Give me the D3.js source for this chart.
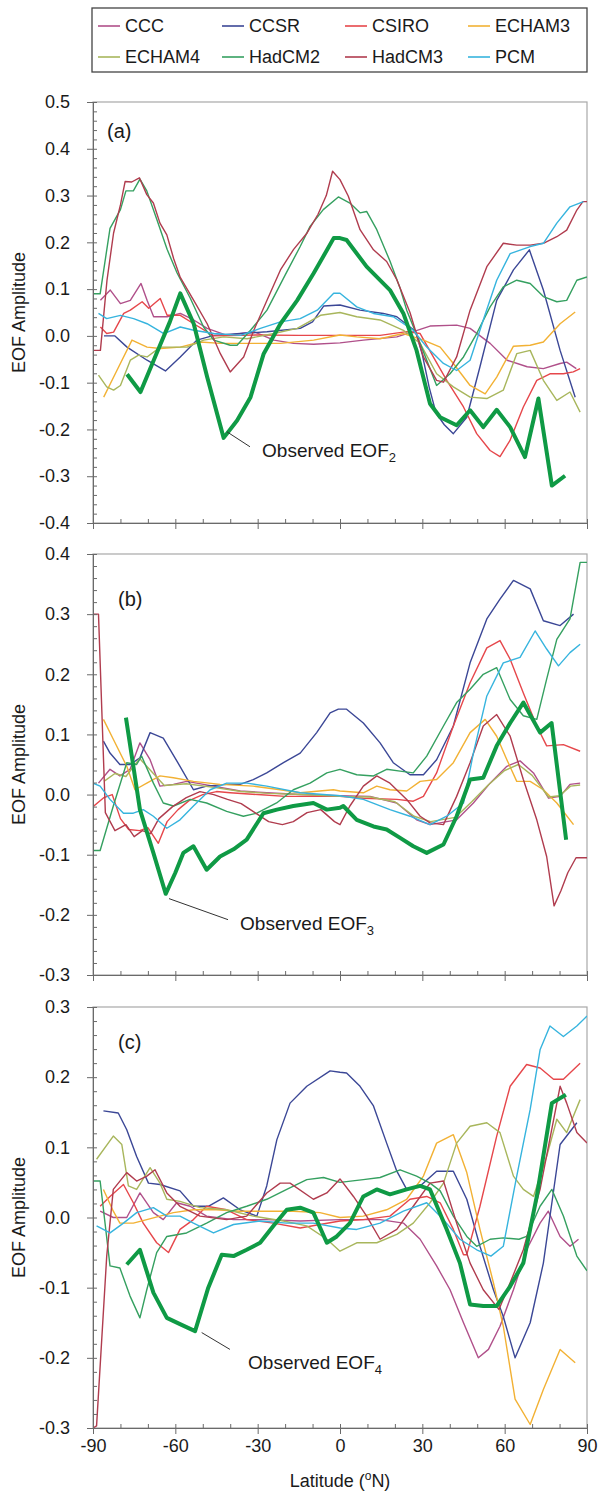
<!DOCTYPE html>
<html>
<head>
<meta charset="utf-8">
<script src="https://cdn.jsdelivr.net/npm/d3@7"></script>
<style>
  body { margin: 0; background: #fff; }
  text { font-family: "Liberation Sans", Arial, sans-serif; }
</style>
</head>
<body>
<div id="chart"></div>
<script>
// legend / series names
var models = ["CCC", "CCSR", "CSIRO", "ECHAM3", "ECHAM4", "HadCM2", "HadCM3", "PCM"];
var modelColors = ["#b0508a", "#3b4796", "#e6474b", "#f2b134", "#a8b65c", "#35a060", "#b03c4e", "#36b4de"];
var obsColor = "#0f9a45";

var panelLabels = ["(a)", "(b)", "(c)"];
var latTicks = [-90, -60, -30, 0, 30, 60, 90];
var eof2Ticks = [-0.4, -0.3, -0.2, -0.1, 0.0, 0.1, 0.2, 0.3, 0.4, 0.5];
var eof3Ticks = [-0.3, -0.2, -0.1, 0.0, 0.1, 0.2, 0.3, 0.4];
var eof4Ticks = [-0.3, -0.2, -0.1, 0.0, 0.1, 0.2, 0.3];

// ---- panel (a): EOF2, [latitude, amplitude] ----
var eof2CCC = [[-87.3,0.076],[-83.7,0.098],[-80,0.069],[-76.4,0.076],[-72.5,0.112],[-70.3,0.076],[-67.9,0.041],[-63,0.041],[-58.2,0.048],[-53.3,0.034],[-48.4,0.016],[-41.2,0.001],[-31.4,0.009],[-24.1,-0.009],[-16.9,-0.016],[-9.6,-0.018],[0,-0.015],[8.5,-0.009],[20.7,-0.002],[26.7,0.009],[32.8,0.021],[42.5,0.023],[47.4,0.016],[54.7,-0.016],[60.9,-0.052],[68.2,-0.066],[74.1,-0.07],[80.2,-0.059],[82.6,-0.056],[86.1,-0.07]];
var eof2CCSR = [[-86,0.0],[-82,0.0],[-77.6,-0.024],[-70.3,-0.052],[-63.6,-0.075],[-58.2,-0.045],[-52.1,-0.009],[-46,0.001],[-36.3,0.005],[-26.6,0.009],[-14.5,0.016],[-10,0.03],[-5.9,0.064],[0,0.066],[7.3,0.055],[15.8,0.048],[20.7,0.041],[25.5,0.019],[27.5,0.01],[30,-0.04],[32.5,-0.11],[35,-0.165],[38,-0.19],[41.3,-0.209],[46.2,-0.174],[51,-0.066],[57.1,0.076],[63.2,0.141],[69,0.184],[74.1,0.098],[80.2,-0.031],[85.7,-0.131]];
var eof2CSIRO = [[-87.3,0.019],[-85,0.005],[-82.5,0.008],[-78.8,0.048],[-76.4,0.055],[-72.1,0.073],[-69.7,0.059],[-65.5,0.08],[-63,0.044],[-58.2,0.044],[-53.3,0.026],[-46,0.0],[-30,0.002],[-15,0.001],[0,0.001],[14.6,0.001],[24.3,0.009],[29.2,0.005],[34,-0.045],[38.9,-0.095],[45,-0.152],[49.8,-0.209],[54.7,-0.245],[58.3,-0.258],[61.9,-0.224],[66.8,-0.152],[71.7,-0.095],[76.5,-0.081],[81.4,-0.081],[85,-0.077],[87.5,-0.07]];
var eof2ECHAM3 = [[-86.1,-0.131],[-81.3,-0.074],[-75.8,-0.009],[-70.3,-0.024],[-65.5,-0.027],[-58.2,-0.024],[-50.9,-0.013],[-43.6,-0.016],[-33.9,-0.016],[-21.7,-0.016],[-9.6,-0.009],[0,0.002],[6.1,-0.002],[14.6,-0.006],[23.1,0.005],[30.4,-0.009],[36.5,-0.024],[41.3,-0.059],[47.4,-0.106],[52.9,-0.124],[57.1,-0.088],[63.2,-0.022],[69.3,-0.02],[74.1,-0.013],[80.2,0.026],[85.7,0.051]];
var eof2ECHAM4 = [[-88,-0.084],[-85,-0.109],[-82.5,-0.116],[-80,-0.106],[-76.4,-0.052],[-73.4,-0.041],[-70.3,-0.045],[-65.5,-0.024],[-55.7,-0.024],[-49.7,-0.009],[-42.4,-0.002],[-33.9,-0.006],[-24.1,0.005],[-15.6,0.016],[-7.1,0.044],[0,0.05],[6.1,0.041],[14.6,0.034],[23.1,0.012],[29.2,-0.016],[35.2,-0.081],[41.3,-0.109],[47.4,-0.131],[53.5,-0.134],[59.5,-0.116],[64.4,-0.038],[69.3,-0.031],[74.1,-0.095],[79,-0.138],[83.8,-0.12],[87.5,-0.163]];
var eof2HadCM2 = [[-90,0.09],[-87.4,0.09],[-83.8,0.23],[-80,0.27],[-78,0.31],[-75.3,0.31],[-72.9,0.335],[-70.4,0.31],[-66.8,0.25],[-63,0.185],[-59.4,0.135],[-54.5,0.08],[-49.7,0.019],[-46,-0.009],[-40,-0.02],[-37.5,-0.02],[-32.6,0.012],[-26.6,0.055],[-20,0.13],[-14.6,0.19],[-10.9,0.234],[-6.1,0.27],[-0.6,0.297],[3.6,0.284],[7.3,0.263],[9.7,0.266],[13.4,0.227],[18.2,0.16],[22,0.1],[24.3,0.055],[29.2,-0.016],[35.2,-0.106],[40.1,-0.081],[45,-0.045],[49.8,0.005],[54.7,0.062],[59.5,0.105],[64.4,0.119],[69.3,0.112],[74.1,0.084],[79,0.073],[82.6,0.076],[86.3,0.119],[90,0.126]];
var eof2HadCM3 = [[-90,-0.031],[-87.3,-0.031],[-84.9,0.119],[-82.5,0.22],[-80,0.28],[-78.3,0.33],[-75.9,0.329],[-73.1,0.338],[-70.4,0.302],[-68,0.284],[-65.6,0.241],[-63.1,0.216],[-60.6,0.165],[-58.2,0.125],[-53.3,0.076],[-48.4,0.026],[-43.6,-0.038],[-40,-0.077],[-35.1,-0.045],[-31.4,0.012],[-26.6,0.076],[-21.7,0.141],[-16.9,0.185],[-12,0.22],[-8,0.26],[-5,0.3],[-2.7,0.352],[0,0.334],[3,0.299],[7.3,0.227],[12.2,0.184],[17,0.159],[20.7,0.12],[25.5,0.05],[30.4,-0.045],[35.2,-0.095],[37.7,-0.099],[42.5,-0.045],[47.4,0.055],[53.5,0.148],[59.5,0.198],[64.4,0.194],[69.3,0.194],[74.1,0.198],[79,0.212],[82.6,0.226],[86.3,0.269],[88.5,0.287],[90,0.287]];
var eof2PCM = [[-88,0.048],[-85,0.037],[-80,0.044],[-75.2,0.037],[-70.3,0.026],[-64.2,0.005],[-58.2,0.019],[-53.3,0.012],[-46,0.005],[-36.3,0.001],[-29,0.016],[-21.7,0.03],[-14.5,0.037],[-8.3,0.055],[-2.3,0.091],[0,0.091],[6.1,0.062],[12.2,0.048],[19.4,0.041],[26.7,0.012],[31.6,-0.024],[37.7,-0.059],[42.5,-0.074],[47.4,-0.052],[52.2,0.034],[57.1,0.119],[62,0.176],[69.3,0.191],[74.1,0.198],[79,0.241],[83.8,0.276],[88.7,0.287]];
var eof2Observed = [[-77.6,-0.082],[-72.7,-0.12],[-67,-0.04],[-62,0.03],[-58.2,0.091],[-53.3,0.026],[-48.4,-0.088],[-42.4,-0.218],[-37.5,-0.181],[-32.6,-0.131],[-27.8,-0.038],[-21.7,0.026],[-15.6,0.076],[-9.6,0.134],[-4.7,0.184],[-2.3,0.209],[0,0.209],[2.4,0.205],[9.7,0.148],[18.2,0.098],[23.1,0.048],[27.9,-0.031],[32.8,-0.145],[36.5,-0.174],[42.5,-0.191],[47.4,-0.159],[52.2,-0.195],[57.1,-0.158],[62,-0.195],[67.4,-0.259],[72.3,-0.134],[77.2,-0.32],[82,-0.299]];

// ---- panel (b): EOF3 ----
var eof3CCC = [[-88,0.019],[-83.8,0.042],[-80.2,0.031],[-76.5,0.042],[-72.9,0.086],[-69.2,0.058],[-65.6,0.014],[-60.7,0.017],[-55.9,0.022],[-46.1,0.014],[-36.4,0.006],[-26.7,0.003],[-14.5,0],[0,-0.002],[10.9,-0.003],[20.7,-0.014],[27.9,-0.042],[32.8,-0.05],[42.5,-0.042],[48.6,-0.014],[54.7,0.019],[60.8,0.047],[65.6,0.056],[70.5,0.036],[76,-0.006],[80.2,-0.003],[83.8,0.017],[87.5,0.019]];
var eof3CCSR = [[-86.2,0.089],[-83.8,0.069],[-80.2,0.05],[-76.5,0.05],[-72.9,0.061],[-69.2,0.103],[-64.4,0.094],[-58.3,0.047],[-53.4,0.008],[-48.6,0.014],[-41.3,0.017],[-36.4,0.017],[-31.6,0.025],[-26.7,0.036],[-20.6,0.053],[-14.5,0.069],[-8.5,0.103],[-3.6,0.136],[-0.6,0.142],[2.4,0.142],[8.5,0.119],[14.6,0.086],[19.4,0.053],[25.5,0.033],[30.4,0.033],[35.2,0.058],[41.3,0.114],[47.4,0.219],[53.5,0.292],[58.3,0.325],[63.2,0.356],[69.3,0.342],[74.1,0.289],[80.2,0.281],[85.1,0.3]];
var eof3CSIRO = [[-90,-0.02],[-86,-0.005],[-83,0.0],[-80,-0.04],[-77,-0.058],[-73,-0.06],[-70,-0.055],[-66.2,-0.081],[-63,-0.045],[-59,-0.025],[-55,-0.01],[-50,0.0],[-45,0.005],[-40,0.003],[-30,0.0],[-20,-0.003],[-10,-0.003],[0,-0.003],[8.5,-0.006],[20.7,-0.008],[26.7,-0.011],[30.4,-0.003],[35.2,0.036],[41.3,0.114],[47.4,0.186],[53.5,0.244],[58.3,0.256],[62,0.225],[66.8,0.169],[71.7,0.114],[75.3,0.081],[81.4,0.083],[87.5,0.072]];
var eof3ECHAM3 = [[-86.2,0.125],[-82.6,0.092],[-77.7,0.047],[-74.7,0.008],[-70.4,0.019],[-65.6,0.031],[-60.7,0.028],[-53.4,0.022],[-43.7,0.017],[-31.6,0.014],[-21.8,0.008],[-14.5,0.003],[-2.4,0.008],[0,0.006],[8.5,0.003],[13.4,0.014],[18.2,0.008],[24.3,0.006],[29.2,0.022],[35.2,0.025],[41.3,0.053],[47.4,0.103],[52.9,0.125],[57.1,0.097],[60.8,0.058],[64.4,0.022],[69.3,0.022],[74.1,0.008],[79,-0.014],[85.1,-0.05]];
var eof3ECHAM4 = [[-86,0.022],[-82,0.035],[-78,0.03],[-73,0.06],[-68,0.035],[-64,0.015],[-56,0.018],[-46,0.012],[-36,0.005],[-26,0.002],[-14,0.0],[0,-0.003],[11,-0.004],[20,-0.012],[27,-0.036],[33,-0.045],[42,-0.038],[48,-0.012],[54,0.016],[60,0.04],[65,0.05],[70,0.032],[76,-0.004],[80,-0.002],[84,0.014],[87.5,0.016]];
var eof3HadCM2 = [[-90,-0.093],[-87.4,-0.093],[-82.6,-0.019],[-77.7,0.053],[-74.1,0.05],[-72.3,0.064],[-68,0.019],[-64.4,-0.014],[-60.7,-0.019],[-54.6,-0.008],[-48.6,-0.014],[-41.3,-0.028],[-35.2,-0.036],[-30.3,-0.031],[-23.1,-0.014],[-17,0.008],[-10.9,0.019],[-4.8,0.036],[0,0.042],[6.1,0.033],[12.2,0.031],[17,0.042],[21.9,0.039],[26.7,0.036],[31.6,0.064],[37.7,0.114],[42.5,0.153],[47.4,0.175],[52.2,0.2],[57.1,0.211],[62,0.158],[66.8,0.131],[71.7,0.125],[75.3,0.192],[79,0.258],[83.8,0.292],[87.5,0.386],[90,0.386]];
var eof3HadCM3 = [[-90,0.3],[-88,0.3],[-85.5,-0.03],[-82,-0.06],[-78,-0.05],[-75,-0.07],[-72,-0.06],[-69,-0.065],[-66,-0.04],[-61,-0.02],[-56,-0.005],[-51,0.005],[-46,0.0],[-41,-0.008],[-36,-0.015],[-31,-0.03],[-26,-0.045],[-21,-0.05],[-17,-0.045],[-12,-0.03],[-7,-0.025],[-2,-0.045],[0,-0.05],[3.6,-0.019],[8.5,0.014],[13.4,0.031],[18.2,0.019],[24.3,-0.008],[29.2,-0.036],[32.8,-0.047],[37.7,-0.05],[42.5,-0.003],[47.4,0.053],[52.2,0.114],[57.1,0.133],[62,0.097],[66.8,0.025],[71.7,-0.042],[75.3,-0.103],[78,-0.185],[80.5,-0.16],[83,-0.13],[86,-0.105],[90,-0.105]];
var eof3PCM = [[-90,0.019],[-87.4,0.014],[-83.8,-0.008],[-78.9,-0.031],[-75.3,-0.031],[-71.7,-0.025],[-68,-0.036],[-63.1,-0.056],[-58.3,-0.042],[-53.4,-0.019],[-47.3,0.008],[-41.3,0.019],[-33.9,0.019],[-26.7,0.014],[-14.5,0.003],[0,-0.002],[8.5,-0.008],[18.2,-0.025],[25.5,-0.036],[32.8,-0.05],[38.9,-0.036],[45,-0.014],[48.6,0.069],[53.5,0.164],[59.5,0.219],[65.6,0.228],[71.1,0.272],[75.3,0.242],[79.6,0.214],[83.8,0.236],[87.5,0.25]];
var eof3Observed = [[-78,0.128],[-72.9,-0.025],[-68,-0.097],[-63.5,-0.165],[-60,-0.13],[-57.1,-0.097],[-53.4,-0.086],[-48.6,-0.125],[-43.7,-0.103],[-38.8,-0.091],[-34,-0.075],[-27.9,-0.031],[-23,-0.025],[-17,-0.019],[-9.7,-0.014],[-4.8,-0.025],[0,-0.022],[1.2,-0.019],[6.1,-0.042],[12.2,-0.053],[17,-0.058],[21.9,-0.072],[26.7,-0.086],[31.6,-0.097],[37.7,-0.083],[42.5,-0.036],[47.4,0.025],[52.2,0.028],[57.1,0.081],[62,0.119],[66.8,0.153],[72.9,0.103],[77.1,0.119],[82.4,-0.075]];

// ---- panel (c): EOF4 ----
var eof4CCC = [[-87.4,0.009],[-82.6,0],[-77.7,0],[-72.9,0.035],[-68,0.007],[-64.4,-0.003],[-59.5,0.021],[-54.6,0.016],[-48.6,0.002],[-38.8,-0.003],[-26.7,-0.003],[-14.5,-0.005],[0,-0.003],[14.6,-0.003],[23.1,-0.008],[29.2,-0.031],[35.2,-0.069],[40.1,-0.103],[45,-0.15],[50.4,-0.2],[54.1,-0.188],[58.3,-0.155],[63.2,-0.103],[68,-0.046],[72.9,-0.008],[75.9,0.009],[80.2,-0.027],[83.8,-0.041],[86.9,-0.031]];
var eof4CCSR = [[-86.2,0.152],[-80.8,0.149],[-77.7,0.125],[-74.1,0.087],[-69.8,0.049],[-65.6,0.047],[-58.3,0.038],[-53.4,0.016],[-48,0.016],[-42.5,0.028],[-36.4,0.011],[-30.3,0.002],[-26.7,0.045],[-23,0.111],[-18.2,0.163],[-12.1,0.187],[-3.6,0.209],[0,0.207],[2.4,0.206],[7.3,0.187],[12.2,0.159],[17,0.106],[20.7,0.066],[24.3,0.04],[29.2,0.045],[35.2,0.066],[41.3,0.066],[46.2,0.026],[51,-0.041],[55.9,-0.103],[59.5,-0.141],[63.8,-0.2],[69.3,-0.15],[74.1,-0.065],[80.2,0.104],[86.3,0.135]];
var eof4CSIRO = [[-87.4,0.016],[-83.8,0.03],[-78.9,0.047],[-75.3,0.021],[-71.7,-0.008],[-66.8,-0.036],[-62.5,-0.05],[-58.3,-0.017],[-53.4,-0.003],[-48.6,0.016],[-41.3,0.011],[-34,-0.003],[-24.3,-0.008],[-14.5,-0.015],[-7.3,-0.01],[0,-0.005],[8.5,-0.003],[18.2,0.002],[25.5,0.026],[31.6,0.03],[36.5,0.021],[41.3,-0.017],[45,-0.053],[46.2,-0.053],[51,0.016],[57.1,0.116],[62,0.187],[68,0.218],[72.9,0.213],[77.8,0.197],[81.4,0.197],[87.5,0.22]];
var eof4ECHAM3 = [[-86.2,0.04],[-82.6,0.009],[-80.2,-0.008],[-75.3,-0.008],[-70.4,-0.003],[-65.6,0.002],[-60.7,0.007],[-53.4,0.011],[-45.1,0.011],[-36.4,0.009],[-26.7,0.009],[-17,0.009],[-7.3,0.007],[0,0.0],[8.5,0.002],[17,0.011],[24.3,0.026],[30.4,0.059],[35.2,0.106],[41.3,0.118],[46.2,0.064],[51,-0.017],[55.9,-0.093],[59.5,-0.155],[63.8,-0.259],[69.3,-0.295],[74.1,-0.245],[80.2,-0.188],[85.7,-0.207]];
var eof4ECHAM4 = [[-88.7,0.083],[-82.6,0.116],[-79.5,0.104],[-77.1,0.045],[-74.1,0.04],[-69.2,0.071],[-65.6,0.049],[-63.1,0.026],[-58.3,0.023],[-51,0.014],[-41.3,0.011],[-31.6,0.002],[-20.6,-0.005],[-12.1,-0.012],[-4.8,-0.031],[0,-0.048],[6.1,-0.036],[13.4,-0.036],[20.7,-0.024],[26.7,-0.008],[32.8,0.021],[37.7,0.049],[42.5,0.106],[47.4,0.13],[53.5,0.135],[58.3,0.121],[63.2,0.059],[66.8,0.04],[70.5,0.03],[75.3,0.087],[79,0.14],[82.6,0.121],[87.5,0.168]];
var eof4HadCM2 = [[-90,0.052],[-87.4,0.052],[-83.8,-0.069],[-80.2,-0.072],[-76.5,-0.112],[-72.9,-0.143],[-70.4,-0.103],[-66.8,-0.05],[-63.1,-0.027],[-55.9,-0.022],[-48.6,-0.008],[-41.3,0.007],[-34,0.016],[-26.7,0.026],[-19.4,0.04],[-12.1,0.054],[-6,0.057],[0,0.05],[8.5,0.054],[14.6,0.057],[21.9,0.068],[27.9,0.059],[32.8,0.049],[36.5,0.038],[41.3,0.002],[46.2,-0.027],[49.8,-0.041],[54.7,-0.031],[59.5,-0.029],[65.2,-0.031],[68,-0.027],[72.9,0.016],[77.2,0.04],[81.4,0.002],[86.3,-0.055],[90,-0.076]];
var eof4HadCM3 = [[-90,-0.3],[-88.7,-0.297],[-85,-0.055],[-82.6,0.04],[-77.7,0.064],[-74.1,0.052],[-70.4,0.059],[-67.4,0.068],[-63.1,0.035],[-58.3,0.016],[-51,0.002],[-41.3,-0.003],[-34,0.002],[-26.7,0.035],[-21.8,0.049],[-18.2,0.049],[-9.7,0.026],[-4.8,0.035],[0,0.055],[4.9,0.03],[9.7,0.002],[14.6,-0.031],[20.7,-0.017],[26.7,0.016],[32.8,0.049],[37.7,0.052],[42.5,-0.008],[47.4,-0.065],[52.2,-0.103],[57.9,-0.131],[62,-0.093],[66.8,-0.046],[72.9,0.04],[80.2,0.187],[82.6,0.163],[86.3,0.121],[90,0.106]];
var eof4PCM = [[-88.7,-0.012],[-83.8,-0.022],[-78.9,-0.008],[-74.1,0.007],[-68,0.014],[-63.1,0.002],[-58.3,0.002],[-53.4,-0.008],[-46.1,-0.022],[-38.8,-0.01],[-29.1,-0.005],[-19.4,-0.008],[-9.7,-0.008],[0,-0.015],[6.1,-0.017],[14.6,-0.008],[23.1,0.009],[31.6,0.021],[37.7,-0.003],[43.7,-0.031],[49.8,-0.046],[55,-0.055],[59.5,-0.041],[64.4,0.059],[69.3,0.154],[72.9,0.239],[76.5,0.273],[81.4,0.258],[86.3,0.273],[90,0.287]];
var eof4Observed = [[-77.7,-0.067],[-72.9,-0.046],[-68,-0.107],[-63.1,-0.143],[-58.3,-0.152],[-52.8,-0.162],[-48,-0.1],[-43.1,-0.053],[-38.8,-0.055],[-34,-0.046],[-29.1,-0.036],[-24.3,-0.012],[-19.4,0.011],[-14.5,0.014],[-9.7,0.007],[-4.8,-0.036],[-1.2,-0.027],[3.6,-0.008],[8.5,0.03],[13.4,0.04],[18.2,0.033],[24.3,0.04],[29.2,0.045],[32.8,0.04],[38.9,-0.017],[43.7,-0.065],[47.4,-0.124],[52.2,-0.126],[57.1,-0.126],[62,-0.098],[66.8,-0.065],[71.7,0.03],[77.2,0.163],[82.3,0.175]];

// observed-curve annotations: subscript, text anchor, leader start/end (lat, amplitude)
var obsSubs = ["2", "3", "4"];
var obsTextPos = [[-28.4, -0.259], [-36.4, -0.225], [-33.5, -0.2165]];
var obsLeaderFrom = [[-41.2, -0.205], [-62.3, -0.173], [-50.4, -0.164]];
var obsLeaderTo = [[-32.8, -0.237], [-40.8, -0.208], [-40.1, -0.188]];

// svg dimensions
var svgWidth = 599;
var svgHeight = 1503;
var plotLeft = 93;
var plotRight = 587;
var panelTops = [102, 554, 1007];
var panelHeight = 421;
var labelPos = [[107, 138], [118, 606], [118, 1049]];

var panels = [
  { domain: [-0.4, 0.5], ticks: eof2Ticks, obs: eof2Observed,
    series: [eof2CCC, eof2CCSR, eof2CSIRO, eof2ECHAM3, eof2ECHAM4, eof2HadCM2, eof2HadCM3, eof2PCM] },
  { domain: [-0.3, 0.4], ticks: eof3Ticks, obs: eof3Observed,
    series: [eof3CCC, eof3CCSR, eof3CSIRO, eof3ECHAM3, eof3ECHAM4, eof3HadCM2, eof3HadCM3, eof3PCM] },
  { domain: [-0.3, 0.3], ticks: eof4Ticks, obs: eof4Observed,
    series: [eof4CCC, eof4CCSR, eof4CSIRO, eof4ECHAM3, eof4ECHAM4, eof4HadCM2, eof4HadCM3, eof4PCM] }
];

var svg = d3.select("#chart")
  .append("svg")
  .attr("width", svgWidth)
  .attr("height", svgHeight);

var xScale = d3.scaleLinear()
  .domain([-90, 90])
  .range([plotLeft, plotRight]);

var fontFamily = '"Liberation Sans", Arial, sans-serif';

function styleAxis(g, size) {
  g.attr("font-size", size)
    .attr("font-family", fontFamily)
    .attr("color", "#6a6a6a");
  g.selectAll("text").attr("fill", "#1a1a1a");
}

panels.forEach(function(p, i) {
  var top = panelTops[i];
  var bottom = top + panelHeight;

  var yScale = d3.scaleLinear()
    .domain(p.domain)
    .range([bottom, top]);

  svg.append("clipPath")
    .attr("id", "clip" + i)
    .append("rect")
    .attr("x", plotLeft)
    .attr("y", top)
    .attr("width", plotRight - plotLeft)
    .attr("height", panelHeight);

  // frame
  svg.append("rect")
    .attr("x", plotLeft)
    .attr("y", top)
    .attr("width", plotRight - plotLeft)
    .attr("height", panelHeight)
    .attr("fill", "none")
    .attr("stroke", "#a8a8a8")
    .attr("stroke-width", 1.2);

  var lineGen = d3.line()
    .x(d => xScale(d[0]))
    .y(d => yScale(d[1]));

  var lines = svg.append("g")
    .attr("clip-path", "url(#clip" + i + ")");

  p.series.forEach(function(s, j) {
    lines.append("path")
      .datum(s)
      .attr("d", lineGen)
      .attr("fill", "none")
      .attr("stroke", modelColors[j])
      .attr("stroke-width", 1.4)
      .attr("stroke-linejoin", "round");
  });

  lines.append("path")
    .datum(p.obs)
    .attr("d", lineGen)
    .attr("fill", "none")
    .attr("stroke", obsColor)
    .attr("stroke-width", 4)
    .attr("stroke-linejoin", "round");

  // y axis: major ticks outward, minor ticks inward
  var yAxis = svg.append("g")
    .attr("transform", `translate(${plotLeft}, 0)`)
    .call(d3.axisLeft(yScale)
      .tickValues(p.ticks)
      .tickSize(6)
      .tickSizeOuter(0)
      .tickPadding(17)
      .tickFormat(d => d.toFixed(1)));
  styleAxis(yAxis, 18);

  var minorY = d3.range(Math.round(p.domain[0] * 50), Math.round(p.domain[1] * 50) + 1).map(k => k / 50);
  var yMinor = svg.append("g")
    .attr("transform", `translate(${plotLeft}, 0)`)
    .call(d3.axisRight(yScale).tickValues(minorY).tickSize(4).tickFormat(""));
  yMinor.select(".domain").remove();
  styleAxis(yMinor, 10);

  // x axis
  var xAxis = svg.append("g")
    .attr("transform", `translate(0, ${bottom})`)
    .call(d3.axisBottom(xScale)
      .tickValues(latTicks)
      .tickSize(6)
      .tickSizeOuter(0)
      .tickPadding(5)
      .tickFormat(d => i === 2 ? String(d) : ""));
  styleAxis(xAxis, 18);

  var xMinor = svg.append("g")
    .attr("transform", `translate(0, ${bottom})`)
    .call(d3.axisTop(xScale).tickValues(d3.range(-90, 91, 10)).tickSize(4).tickFormat(""));
  xMinor.select(".domain").remove();
  styleAxis(xMinor, 10);

  // y axis title
  svg.append("text")
    .attr("transform", `translate(19, ${top + panelHeight / 2}) rotate(-90)`)
    .attr("text-anchor", "middle")
    .attr("dy", "0.35em")
    .attr("font-size", 18)
    .attr("fill", "#1a1a1a")
    .text("EOF Amplitude");

  // panel label
  svg.append("text")
    .attr("x", labelPos[i][0])
    .attr("y", labelPos[i][1])
    .attr("font-size", 20)
    .attr("fill", "#1a1a1a")
    .text(panelLabels[i]);

  // observed annotation
  svg.append("line")
    .attr("x1", xScale(obsLeaderFrom[i][0]))
    .attr("y1", yScale(obsLeaderFrom[i][1]))
    .attr("x2", xScale(obsLeaderTo[i][0]))
    .attr("y2", yScale(obsLeaderTo[i][1]))
    .attr("stroke", "#333")
    .attr("stroke-width", 1);

  var note = svg.append("text")
    .attr("x", xScale(obsTextPos[i][0]))
    .attr("y", yScale(obsTextPos[i][1]))
    .attr("font-size", 19)
    .attr("fill", "#1a1a1a")
    .text("Observed EOF");
  note.append("tspan")
    .attr("dy", 5)
    .attr("font-size", 13)
    .text(obsSubs[i]);
});

// x axis title
var xTitle = svg.append("text")
  .attr("x", (plotLeft + plotRight) / 2)
  .attr("y", 1487)
  .attr("text-anchor", "middle")
  .attr("font-size", 18)
  .attr("fill", "#1a1a1a")
  .text("Latitude (");
xTitle.append("tspan").attr("dy", -7).attr("font-size", 12).text("o");
xTitle.append("tspan").attr("dy", 7).text("N)");

// legend
var legend = svg.append("g");
legend.append("rect")
  .attr("x", 92)
  .attr("y", 8)
  .attr("width", 495)
  .attr("height", 64)
  .attr("fill", "#fff")
  .attr("stroke", "#444")
  .attr("stroke-width", 1.3);

var legendCols = [98, 222, 345, 468];
var legendRows = [26, 57];

var items = legend.selectAll("g.item")
  .data(models)
  .enter()
  .append("g")
  .attr("class", "item")
  .attr("transform", (d, k) => `translate(${legendCols[k % 4]}, ${legendRows[Math.floor(k / 4)]})`);

items.append("line")
  .attr("x1", 0)
  .attr("x2", 22)
  .attr("stroke", (d, k) => modelColors[k])
  .attr("stroke-width", 1.6);

items.append("text")
  .attr("x", 27)
  .attr("dy", "0.35em")
  .attr("font-size", 18)
  .attr("fill", "#1a1a1a")
  .text(d => d);
</script>
</body>
</html>
